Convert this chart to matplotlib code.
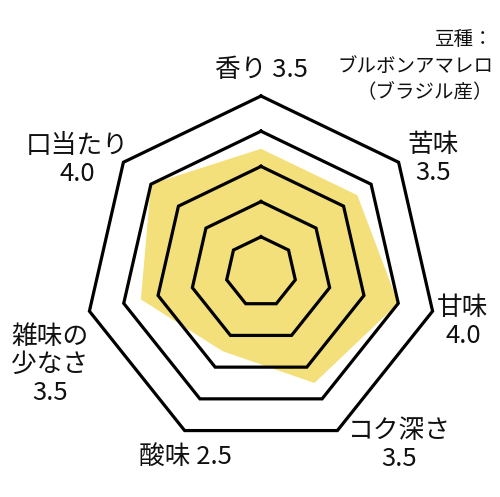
import numpy as np
import matplotlib
matplotlib.use("Agg")
import matplotlib.pyplot as plt

plt.rcParams['font.family'] = ['Noto Sans CJK JP', 'DejaVu Sans']

# 7 flavour axes, clockwise from the top
names = ["香り", "苦味", "甘味", "コク深さ", "酸味", "雑味の\n少なさ", "口当たり"]
scores = [3.5, 3.5, 4.0, 3.5, 2.5, 3.5, 4.0]
levels = [1, 2, 3, 4, 5]
bean_note = "豆種：\nブルボンアマレロ\n（ブラジル産）"

# label layout (pixel centres) and separator between name and score
label_px = [(261, 70), (433, 159), (463, 322), (399, 445),
            (185, 457), (50, 365), (77, 160)]
label_sep = [" ", "\n", "\n", "\n", " ", "\n", "\n"]

W, H = 500, 497
unit = 35.2          # pixels per score unit
cx, cy = 261, 272    # centre of the web, pixels from top-left

n = len(names)
ang = np.pi / 2 - 2 * np.pi * np.arange(n) / n


def poly(r):
    r = np.asarray(r, dtype=float)
    x = r * np.cos(ang)
    y = r * np.sin(ang)
    return np.append(x, x[0]), np.append(y, y[0])


fig = plt.figure(figsize=(W / 100, H / 100), dpi=100)
ax = fig.add_axes([0, 0, 1, 1])
ax.set_xlim(-cx / unit, (W - cx) / unit)
ax.set_ylim(-(H - cy) / unit, cy / unit)
ax.set_aspect('equal')
ax.axis('off')

fx, fy = poly(scores)
ax.fill(fx, fy, color="#F4E07A", lw=0, zorder=1)

for lv in levels:
    gx, gy = poly([lv] * n)
    ax.plot(gx, gy, color="black", lw=2.3, solid_joinstyle='miter', zorder=2)

for name, sc, (px, py), sep in zip(names, scores, label_px, label_sep):
    fig.text(px / W, 1 - py / H, f"{name}{sep}{sc:.1f}", ha='center', va='center',
             fontsize=18.5, linespacing=1.1, color="#111111")

fig.text(493 / W, 1 - 66 / H, bean_note, ha='right', va='center',
         fontsize=14, linespacing=1.35, color="#111111", multialignment='right')

fig.savefig("out.png", dpi=100, facecolor="white")
